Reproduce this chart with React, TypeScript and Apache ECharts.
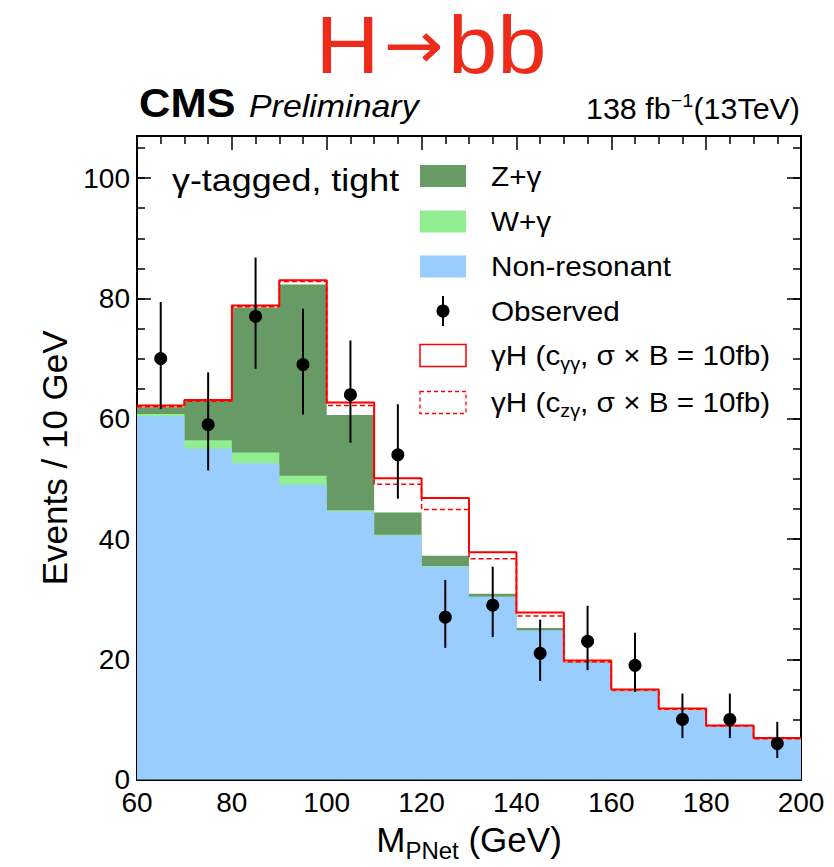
import React, { useEffect, useRef } from 'react';
import * as echarts from 'echarts';

// ---- data ----
const binEdges = [60, 70, 80, 90, 100, 110, 120, 130, 140, 150, 160, 170, 180, 190, 200];
const binCenters = [65, 75, 85, 95, 105, 115, 125, 135, 145, 155, 165, 175, 185, 195];
const nonResonant = [60.4, 55.0, 52.6, 49.0, 44.6, 40.6, 35.4, 30.4, 24.8, 19.4, 14.6, 11.4, 8.8, 6.7];
const wGamma = [0.4, 1.4, 1.8, 1.5, 0.2, 0.1, 0.1, 0, 0, 0, 0, 0, 0, 0];
const zGamma = [1.1, 6.6, 24.1, 31.8, 15.8, 3.7, 1.7, 0.5, 0.4, 0.1, 0.1, 0.1, 0, 0];
const totalWithGammaHgg = [62.2, 63.1, 78.8, 83.0, 62.7, 50.1, 46.8, 37.8, 27.8, 19.8, 15.0, 11.8, 9.0, 6.9];
const totalWithGammaHzg = [62.0, 62.9, 78.6, 82.8, 62.2, 49.1, 44.9, 36.7, 27.2, 19.6, 14.9, 11.7, 8.9, 6.8];
const observed = [70, 59, 77, 69, 64, 54, 27, 29, 21, 23, 19, 10, 10, 6];
const observedLow = [61.6, 51.4, 68.3, 60.7, 56.0, 46.7, 21.9, 23.7, 16.4, 18.2, 14.6, 6.9, 6.9, 3.6];
const observedHigh = [79.4, 67.7, 86.8, 78.3, 73.0, 62.4, 33.2, 35.4, 26.6, 28.9, 24.4, 14.3, 14.3, 9.6];

const X_MIN = 60;
const X_MAX = 200;
const Y_MIN = 0;
const Y_MAX = 107;

const FONT = '"Liberation Sans", Arial, Helvetica, sans-serif';
const C_Z = '#679a64';
const C_W = '#90ee90';
const C_NR = '#99ccff';
const C_RED = '#ff0000';

// stacked (cumulative) background levels
const cumW = nonResonant.map((v, i) => v + wGamma[i]);
const cumZ = cumW.map((v, i) => v + zGamma[i]);

const stepData = (vals: number[]) =>
  binEdges.map((e, i) => [e, vals[Math.min(i, vals.length - 1)]]);

const tickStyle = { color: '#000', width: 1.5 };
const lineStyleAxis = { color: '#000', width: 2 };

function xAxisDef(position: 'bottom' | 'top', withLabels: boolean): any {
  return {
    type: 'value',
    min: X_MIN,
    max: X_MAX,
    interval: 20,
    position,
    axisLine: { show: true, onZero: false, lineStyle: lineStyleAxis },
    axisTick: { show: true, inside: true, length: 14, lineStyle: tickStyle },
    minorTick: { show: true, splitNumber: 4, length: 8, lineStyle: tickStyle },
    splitLine: { show: false },
    axisLabel: withLabels
      ? { show: true, fontSize: 28, color: '#000', fontFamily: FONT, margin: 9 }
      : { show: false },
    ...(withLabels
      ? {
          name: '{m|M}{s|PNet}{m| (GeV)}',
          nameLocation: 'middle',
          nameGap: 26,
          nameTextStyle: {
            color: '#000',
            fontFamily: FONT,
            fontSize: 35,
            rich: {
              m: { fontSize: 35, fontFamily: FONT, color: '#000' },
              s: { fontSize: 24, fontFamily: FONT, color: '#000', padding: [22, 0, 0, 0] },
            },
          },
        }
      : {}),
  };
}

function yAxisDef(position: 'left' | 'right', minor: boolean, withLabels: boolean): any {
  return {
    type: 'value',
    min: Y_MIN,
    max: Y_MAX,
    interval: minor ? 5 : 20,
    position,
    axisLine: { show: minor, onZero: false, lineStyle: lineStyleAxis },
    axisTick: { show: true, inside: true, length: minor ? 8 : 14, lineStyle: tickStyle },
    splitLine: { show: false },
    axisLabel: withLabels
      ? {
          show: true,
          fontSize: 28,
          color: '#000',
          fontFamily: FONT,
          margin: 7,
          showMaxLabel: false,
          formatter: (v: number) => (v % 20 === 0 ? String(v) : ''),
        }
      : { show: false },
    ...(withLabels
      ? {
          name: 'Events / 10 GeV',
          nameLocation: 'middle',
          nameGap: 64,
          nameRotate: 90,
          nameTextStyle: { color: '#000', fontFamily: FONT, fontSize: 35 },
        }
      : {}),
  };
}

export default function App() {
  const ref = useRef<HTMLDivElement>(null);

  useEffect(() => {
    if (!ref.current) return;
    const chart = echarts.init(ref.current, undefined, { renderer: 'svg' });

    const legendX = 420;
    const legendTextX = 491;
    const rows = [176, 221.5, 266.5, 311, 355.5, 402.5];
    const txt = (x: number, y: number, text: string, extra: any = {}, scaleX = 1.1): any => ({
      type: 'text',
      x,
      y,
      scaleX,
      z: 100,
      style: {
        text,
        fontFamily: FONT,
        fontSize: 27,
        fill: '#000',
        align: 'left',
        verticalAlign: 'middle',
        ...extra,
      },
    });
    const subRich = {
      s: { fontSize: 18, fontFamily: FONT, fill: '#000', color: '#000', padding: [16, 0, 0, 0] },
    };
    const legendRect = (y: number, style: any): any => ({
      type: 'rect',
      z: 100,
      shape: { x: legendX, y: y - 11, width: 46, height: 22 },
      style,
    });

    const graphic: any[] = [
      // top title
      {
        type: 'text',
        x: 431,
        y: 45,
        scaleX: 1.08,
        z: 100,
        style: {
          text: 'H{a|→}bb',
          fontFamily: FONT,
          fontSize: 82,
          lineHeight: 82,
          fill: '#ee2a1a',
          align: 'center',
          verticalAlign: 'middle',
          rich: {
            a: { fontFamily: '"DejaVu Sans", sans-serif', fontSize: 66, fill: '#ee2a1a', color: '#ee2a1a', padding: [0, 4, 0, 4] },
          },
        },
      },
      {
        type: 'text',
        x: 139,
        y: 103,
        scaleX: 1.06,
        z: 100,
        style: {
          text: 'CMS',
          fontFamily: FONT,
          fontSize: 41,
          fontWeight: 'bold',
          fill: '#000',
          align: 'left',
          verticalAlign: 'middle',
        },
      },
      {
        type: 'text',
        x: 249,
        y: 106,
        scaleX: 1.06,
        z: 100,
        style: {
          text: 'Preliminary',
          fontFamily: FONT,
          fontSize: 32,
          fontStyle: 'italic',
          fill: '#000',
          align: 'left',
          verticalAlign: 'middle',
        },
      },
      {
        type: 'text',
        x: 800,
        y: 109,
        scaleX: 1.05,
        z: 100,
        style: {
          text: '138 fb{p|−1}(13TeV)',
          fontFamily: FONT,
          fontSize: 29,
          fill: '#000',
          align: 'right',
          verticalAlign: 'middle',
          rich: { p: { fontSize: 19, fontFamily: FONT, fill: '#000', color: '#000', padding: [0, 0, 18, 0] } },
        },
      },
      // category label
      txt(172, 180, 'γ-tagged, tight', { fontSize: 32 }, 1.12),
      // legend
      legendRect(rows[0], { fill: C_Z }),
      txt(legendTextX, rows[0], 'Z+γ'),
      legendRect(rows[1], { fill: C_W }),
      txt(legendTextX, rows[1], 'W+γ'),
      legendRect(rows[2], { fill: C_NR }),
      txt(legendTextX, rows[2], 'Non-resonant'),
      {
        type: 'line',
        z: 100,
        shape: { x1: legendX + 23, y1: rows[3] - 15, x2: legendX + 23, y2: rows[3] + 15 },
        style: { stroke: '#000', lineWidth: 2 },
      },
      { type: 'circle', z: 100, shape: { cx: legendX + 23, cy: rows[3], r: 6.5 }, style: { fill: '#000' } },
      txt(legendTextX, rows[3], 'Observed'),
      legendRect(rows[4], { fill: '#fff', stroke: C_RED, lineWidth: 1.5 }),
      txt(legendTextX, rows[4], 'γH (c{s|γγ}, σ × B = 10fb)', { rich: subRich }),
      legendRect(rows[5], { fill: '#fff', stroke: C_RED, lineWidth: 1.3, lineDash: [4, 3] }),
      txt(legendTextX, rows[5], 'γH (c{s|zγ}, σ × B = 10fb)', { rich: subRich }),
    ];

    const areaSeries = (name: string, vals: number[], color: string, z: number): any => ({
      name,
      type: 'line',
      step: 'end',
      data: stepData(vals),
      symbol: 'none',
      lineStyle: { width: 0, opacity: 0 },
      areaStyle: { color, opacity: 1, origin: 'start' },
      z,
      silent: true,
    });

    chart.setOption({
      animation: false,
      backgroundColor: '#fff',
      grid: { left: 137, right: 33, top: 136, bottom: 74, containLabel: false },
      xAxis: [xAxisDef('bottom', true), xAxisDef('top', false)],
      yAxis: [
        yAxisDef('left', true, true),
        yAxisDef('left', false, false),
        yAxisDef('right', true, false),
        yAxisDef('right', false, false),
      ],
      series: [
        // drawn top layer first, lower layers cover it
        areaSeries('Z+γ', cumZ, C_Z, 1),
        areaSeries('W+γ', cumW, C_W, 1),
        areaSeries('Non-resonant', nonResonant, C_NR, 1),
        {
          name: 'γH (czγ)',
          type: 'line',
          step: 'end',
          data: stepData(totalWithGammaHzg),
          symbol: 'none',
          lineStyle: { color: C_RED, width: 1.5, type: [5, 3] },
          z: 3,
        },
        {
          name: 'γH (cγγ)',
          type: 'line',
          step: 'end',
          data: stepData(totalWithGammaHgg),
          symbol: 'none',
          lineStyle: { color: C_RED, width: 2 },
          z: 4,
        },
        {
          name: 'Observed error',
          type: 'custom',
          renderItem: (params: any, api: any) => {
            const x = api.value(0);
            const lo = api.coord([x, api.value(1)]);
            const hi = api.coord([x, api.value(2)]);
            return {
              type: 'line',
              shape: { x1: lo[0], y1: lo[1], x2: hi[0], y2: hi[1] },
              style: { stroke: '#000', lineWidth: 2 },
            };
          },
          data: binCenters.map((c, i) => [c, observedLow[i], observedHigh[i]]),
          encode: { x: 0, y: [1, 2] },
          z: 5,
        },
        {
          name: 'Observed',
          type: 'scatter',
          data: binCenters.map((c, i) => [c, observed[i]]),
          symbol: 'circle',
          symbolSize: 13,
          itemStyle: { color: '#000', opacity: 1 },
          z: 6,
        },
      ],
      graphic,
    });

    return () => chart.dispose();
  }, []);

  return (
    <div
      ref={ref}
      style={{ position: 'absolute', left: 0, top: 0, width: 834, height: 867, background: '#fff' }}
    />
  );
}
